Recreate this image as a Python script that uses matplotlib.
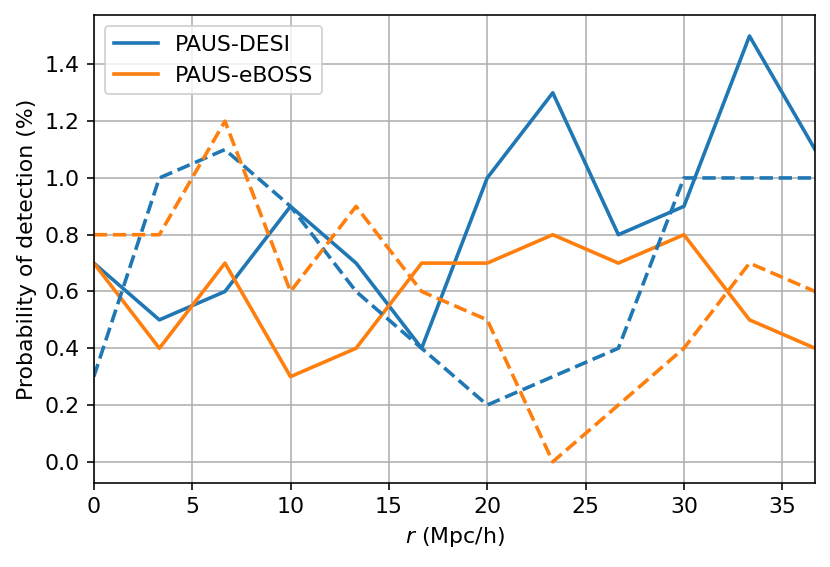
import matplotlib
matplotlib.use('Agg')
import matplotlib.pyplot as plt
import numpy as np

plt.rcParams['font.size'] = 11

# separation bins (Mpc/h)
r = np.arange(12) * 10 / 3.0

# probability of detection (%)
desi_solid = [0.7, 0.5, 0.6, 0.9, 0.7, 0.4, 1.0, 1.3, 0.8, 0.9, 1.5, 1.1]
desi_dashed = [0.3, 1.0, 1.1, 0.9, 0.6, 0.4, 0.2, 0.3, 0.4, 1.0, 1.0, 1.0]
eboss_solid = [0.7, 0.4, 0.7, 0.3, 0.4, 0.7, 0.7, 0.8, 0.7, 0.8, 0.5, 0.4]
eboss_dashed = [0.8, 0.8, 1.2, 0.6, 0.9, 0.6, 0.5, 0.0, 0.2, 0.4, 0.7, 0.6]

fig = plt.figure(figsize=(830 / 144, 567 / 144), dpi=144)
ax = fig.add_axes([0.113, 0.148, 0.869, 0.826])

ax.plot(r, desi_solid, color='C0', lw=1.8, label='PAUS-DESI')
ax.plot(r, eboss_solid, color='C1', lw=1.8, label='PAUS-eBOSS')
ax.plot(r, desi_dashed, color='C0', lw=1.8, ls='--')
ax.plot(r, eboss_dashed, color='C1', lw=1.8, ls='--')

ax.set_xlim(0, r[-1])
ax.grid(True, color='#b0b0b0', lw=0.8)
ax.set_xlabel(r'$r$ (Mpc/h)')
ax.set_ylabel('Probability of detection (%)')
ax.legend(loc='upper left')

plt.savefig('out.png', dpi=144)
